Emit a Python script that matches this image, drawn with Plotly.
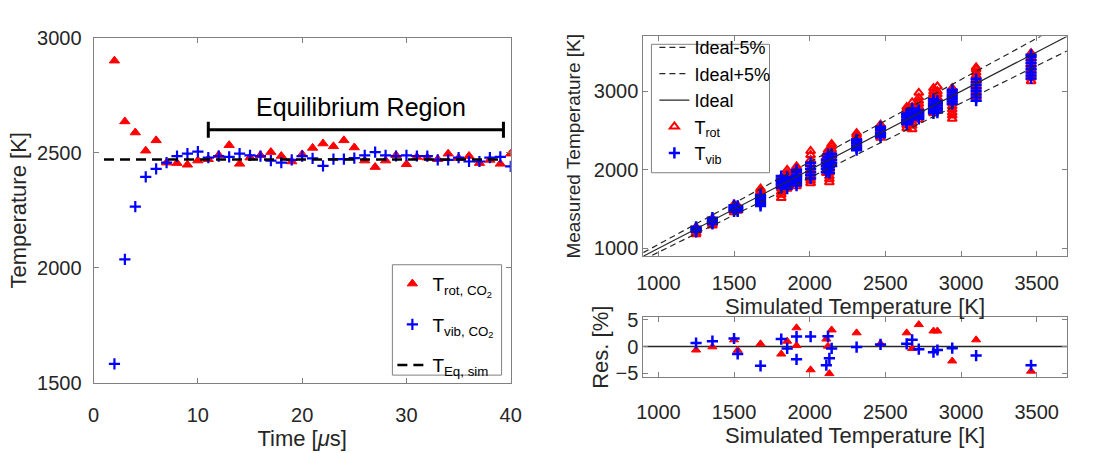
import plotly.graph_objects as go

W, H = 1116, 453
FONT = "Liberation Sans"
AX_GRAY = "#808080"
TXT = "#262626"

# ---------------- left panel: CO2 temperatures vs. time ----------------
time_us = list(range(2, 41))
t_rot = [2900, 2636, 2588, 2509, 2554, 2457, 2455, 2448, 2466, 2472, 2490, 2533, 2452,
         2479, 2489, 2503, 2486, 2462, 2493, 2521, 2540, 2528, 2554, 2523, 2466, 2438,
         2466, 2489, 2450, 2482, 2479, 2472, 2496, 2477, 2486, 2455, 2469, 2452, 2496]
t_vib = [1583, 2037, 2266, 2395, 2430, 2457, 2485, 2496, 2505, 2479, 2485, 2482, 2496,
         2489, 2485, 2466, 2457, 2469, 2485, 2476, 2443, 2472, 2472, 2477, 2489, 2503,
         2489, 2486, 2489, 2486, 2485, 2469, 2469, 2479, 2462, 2462, 2479, 2482, 2441]
t_eq_sim = 2471
t_eq_span = [1, 39]
eq_window = [11, 39.3]      # equilibrium region start / end [us]
eq_bracket_T = 2600         # height of the bracket [K]
eq_cap = 35                 # half height of the bracket end caps [K]

# ---------------- right panel: measured vs simulated ----------------
sim_T = [1249, 1357, 1500, 1524, 1675, 1812, 1851, 1913, 1913, 2006, 2110, 2121,
         2130, 2145, 2310, 2468, 2641, 2677, 2721, 2818, 2844, 2942, 3100, 3463]
meas_rot = [
    [1180, 1198, 1221, 1238, 1256, 1270],
    [1290, 1312, 1333, 1349, 1366, 1380],
    [1460, 1482, 1499, 1521, 1538, 1560],
    [1480, 1498, 1516, 1531, 1545],
    [1620, 1646, 1668, 1697, 1718, 1741, 1760],
    [1640, 1683, 1719, 1762, 1798, 1841, 1868, 1900],
    [1760, 1802, 1838, 1871, 1899, 1932, 1958, 2000],
    [1900, 1931, 1958, 1992, 2018, 2044],
    [1790, 1832, 1869, 1911, 1948, 1990],
    [1830, 1862, 1893, 1921, 1952, 1983, 2022, 2071, 2128, 2189, 2240],
    [1960, 1998, 2041, 2079, 2122, 2158, 2200],
    [2050, 2092, 2128, 2171, 2209, 2250],
    [1842, 1881, 1918, 1962, 1999, 2041, 2080],
    [2100, 2142, 2178, 2221, 2259, 2301, 2327],
    [2300, 2332, 2358, 2391, 2419, 2448, 2468],
    [2410, 2441, 2468, 2502, 2529, 2561, 2575],
    [2530, 2572, 2608, 2651, 2689, 2731, 2768, 2800],
    [2517, 2561, 2598, 2642, 2679, 2722, 2758, 2801, 2860],
    [2640, 2682, 2719, 2761, 2798, 2842, 2879, 2921, 2981],
    [2720, 2758, 2801, 2839, 2882, 2919, 2961, 2998, 3040],
    [2760, 2802, 2838, 2881, 2918, 2962, 2999, 3062],
    [2650, 2692, 2728, 2771, 2809, 2852, 2889, 2931, 2968, 3011, 3040],
    [2920, 2962, 2998, 3041, 3079, 3122, 3158, 3201, 3239, 3281, 3305],
    [3130, 3172, 3209, 3251, 3288, 3331, 3368, 3411, 3449, 3486],
]
meas_vib = [
    [1210, 1231, 1244, 1262, 1275],
    [1310, 1331, 1349, 1371, 1390],
    [1470, 1491, 1509, 1531, 1550],
    [1470, 1489, 1506, 1521, 1540],
    [1540, 1566, 1589, 1616, 1639, 1661, 1680],
    [1770, 1801, 1829, 1861, 1889, 1920],
    [1760, 1791, 1819, 1851, 1879, 1910],
    [1880, 1911, 1939, 1971, 2000],
    [1800, 1831, 1859, 1891, 1920],
    [1890, 1931, 1969, 2011, 2049, 2090],
    [1970, 2011, 2049, 2091, 2130],
    [2000, 2041, 2079, 2121, 2159, 2200],
    [1960, 2001, 2039, 2081, 2120],
    [2050, 2091, 2129, 2171, 2205],
    [2250, 2281, 2309, 2341, 2369, 2387],
    [2415, 2446, 2474, 2506, 2534, 2550],
    [2580, 2611, 2639, 2671, 2699, 2718],
    [2640, 2671, 2699, 2731, 2759, 2780],
    [2650, 2681, 2709, 2741, 2760],
    [2720, 2751, 2779, 2811, 2839, 2871, 2900],
    [2730, 2761, 2789, 2821, 2849, 2880],
    [2840, 2871, 2899, 2931, 2959, 2991, 3020],
    [2880, 2921, 2959, 3001, 3039, 3081, 3119, 3160],
    [3165, 3201, 3239, 3281, 3319, 3361, 3399, 3441, 3466],
]
res_rot = [-0.65, -0.06, 1.25, -0.7, 0.5, -1.4, 1.0, 3.5, 0.18, -4.35, 1.4, 0.06,
           -5.06, 3.1, 2.56, 0.54, 2.56, -0.36, 4.1, 2.9, 2.9, -2.7, 1.25, -4.6]
res_vib = [0.65, 1.0, 1.5, -1.4, -3.6, 1.4, -0.36, 1.85, -2.4, 1.85, -3.5, 1.9,
           -2.2, -0.36, -0.1, 0.4, 0.5, 1.25, -0.5, -1.07, -0.65, -0.3, -1.7, -3.5]
ideal_span = [900, 3700]
tolerance = 0.05

RED = "#ff0000"
BLUE = "#0000ff"


def px_x(p):
    return p / W


def px_y(p):
    return 1 - p / H


def box_axis(**kw):
    d = dict(showline=True, linecolor=AX_GRAY, linewidth=1, mirror="ticks",
             ticks="inside", ticklen=5, tickcolor=AX_GRAY, tickwidth=1,
             showgrid=False, zeroline=False,
             tickfont=dict(family=FONT, size=20, color=TXT),
             title_font=dict(family=FONT, size=22, color=TXT))
    d.update(kw)
    return d


fig = go.Figure()

# ---- left panel traces ----
fig.add_trace(go.Scatter(
    x=time_us, y=t_rot, mode="markers", name="T<sub>rot, CO<sub>2</sub></sub>",
    marker=dict(symbol="triangle-up", size=9, color=RED, line=dict(width=1, color=RED)),
    xaxis="x", yaxis="y", legend="legend", legendgroup="a"))
fig.add_trace(go.Scatter(
    x=time_us, y=t_vib, mode="markers", name="T<sub>vib, CO<sub>2</sub></sub>",
    marker=dict(symbol="cross-thin", size=8, color=BLUE, line=dict(width=2.2, color=BLUE)),
    xaxis="x", yaxis="y", legend="legend", legendgroup="b"))
fig.add_trace(go.Scatter(
    x=t_eq_span, y=[t_eq_sim, t_eq_sim], mode="lines", name="T<sub>Eq, sim</sub>",
    line=dict(color="black", width=2.5, dash="10px,6px"),
    xaxis="x", yaxis="y", legend="legend", legendgroup="c"))

# equilibrium-region bracket
bx = [eq_window[0], eq_window[0], None, eq_window[0], eq_window[1], None, eq_window[1], eq_window[1]]
by = [eq_bracket_T - eq_cap, eq_bracket_T + eq_cap, None, eq_bracket_T, eq_bracket_T, None,
      eq_bracket_T - eq_cap, eq_bracket_T + eq_cap]
fig.add_trace(go.Scatter(x=bx, y=by, mode="lines", line=dict(color="black", width=3),
                         showlegend=False, xaxis="x", yaxis="y"))

# ---- right top: measured vs simulated ----
rx, ry, vx, vy = [], [], [], []
for T, rot, vib in zip(sim_T, meas_rot, meas_vib):
    rx += [T] * len(rot)
    ry += rot
    vx += [T] * len(vib)
    vy += vib

fig.add_trace(go.Scatter(
    x=rx, y=ry, mode="markers", name="T<sub>rot</sub>",
    marker=dict(symbol="triangle-up-open", size=8, color=RED, line=dict(width=2, color=RED)),
    xaxis="x2", yaxis="y2", legend="legend2", legendrank=4, legendgroup="r4"))
fig.add_trace(go.Scatter(
    x=vx, y=vy, mode="markers", name="T<sub>vib</sub>",
    marker=dict(symbol="cross-thin", size=8, color=BLUE, line=dict(width=2.5, color=BLUE)),
    xaxis="x2", yaxis="y2", legend="legend2", legendrank=5, legendgroup="r5"))

fig.add_trace(go.Scatter(
    x=ideal_span, y=[v * (1 - tolerance) for v in ideal_span], mode="lines", name="Ideal-5%",
    line=dict(color="#262626", width=1.2, dash="6px,4px"),
    xaxis="x2", yaxis="y2", legend="legend2", legendrank=1, legendgroup="r1"))
fig.add_trace(go.Scatter(
    x=ideal_span, y=[v * (1 + tolerance) for v in ideal_span], mode="lines", name="Ideal+5%",
    line=dict(color="#262626", width=1.2, dash="6px,4px"),
    xaxis="x2", yaxis="y2", legend="legend2", legendrank=2, legendgroup="r2"))
fig.add_trace(go.Scatter(
    x=ideal_span, y=ideal_span, mode="lines", name="Ideal",
    line=dict(color="#262626", width=1.2),
    xaxis="x2", yaxis="y2", legend="legend2", legendrank=3, legendgroup="r3"))

# ---- right bottom: residuals ----
fig.add_trace(go.Scatter(
    x=ideal_span, y=[0, 0], mode="lines", line=dict(color="#262626", width=1.5),
    showlegend=False, xaxis="x3", yaxis="y3"))
fig.add_trace(go.Scatter(
    x=sim_T, y=res_rot, mode="markers", showlegend=False,
    marker=dict(symbol="triangle-up", size=8, color=RED, line=dict(width=1, color=RED)),
    xaxis="x3", yaxis="y3"))
fig.add_trace(go.Scatter(
    x=sim_T, y=res_vib, mode="markers", showlegend=False,
    marker=dict(symbol="cross-thin", size=8, color=BLUE, line=dict(width=2.5, color=BLUE)),
    xaxis="x3", yaxis="y3"))

# legend frames
frames = [
    (391.7, 266.7, 502.7, 382.7),
    (655, 35, 775, 170),
]
shapes = [dict(type="rect", xref="paper", yref="paper",
               x0=px_x(a), x1=px_x(c), y0=px_y(d), y1=px_y(b),
               line=dict(color=AX_GRAY, width=1), fillcolor="white", layer="below")
          for a, b, c, d in frames]

fig.update_layout(
    width=W, height=H, margin=dict(l=0, r=0, t=0, b=0),
    paper_bgcolor="white", plot_bgcolor="white",
    font=dict(family=FONT, color=TXT),
    shapes=shapes,
    xaxis=box_axis(domain=[px_x(88), px_x(512)], range=[0, 40], tickvals=[0, 10, 20, 30, 40],
                   ticklabelstandoff=14,
                   title=dict(text="Time [<i>μ</i>s]", standoff=4), anchor="y"),
    yaxis=box_axis(domain=[px_y(391), px_y(28)], range=[1500, 3000],
                   tickvals=[1500, 2000, 2500, 3000], ticklabelstandoff=7,
                   title=dict(text="Temperature [K]", standoff=4), anchor="x"),
    xaxis2=box_axis(domain=[px_x(646.7), px_x(1077.3)], range=[900, 3700],
                    tickvals=[1000, 1500, 2000, 2500, 3000, 3500], ticklabelstandoff=9,
                    title=dict(text="Simulated Temperature [K]", standoff=0), anchor="y2"),
    yaxis2=box_axis(domain=[px_y(257.7), px_y(26.7)], range=[900, 3700],
                    tickvals=[1000, 2000, 3000],
                    title=dict(text="Measured Temperature [K]", standoff=8,
                               font=dict(family=FONT, size=19, color=TXT)), anchor="x2"),
    xaxis3=box_axis(domain=[px_x(646.7), px_x(1077.3)], range=[900, 3700],
                    tickvals=[1000, 1500, 2000, 2500, 3000, 3500], ticklabelstandoff=17,
                    title=dict(text="Simulated Temperature [K]", standoff=4), anchor="y3"),
    yaxis3=box_axis(domain=[px_y(385), px_y(321.7)], range=[-5.75, 5.5],
                    tickvals=[-5, 0, 5],
                    title=dict(text="Res. [%]", standoff=0), anchor="x3"),
    legend=dict(x=px_x(391.7), y=px_y(266.7), xanchor="left", yanchor="top",
                borderwidth=0, bgcolor="rgba(0,0,0,0)",
                font=dict(family=FONT, size=19, color="black"), tracegroupgap=13),
    legend2=dict(x=px_x(658), y=px_y(19), xanchor="left", yanchor="top",
                 borderwidth=0, bgcolor="rgba(0,0,0,0)",
                 font=dict(family=FONT, size=18, color="black"), tracegroupgap=0),
    annotations=[dict(x=25.6, y=2700, xref="x", yref="y", text="Equilibrium Region",
                      showarrow=False, font=dict(family=FONT, size=25, color="black"))],
)

fig.write_html("out.html")
